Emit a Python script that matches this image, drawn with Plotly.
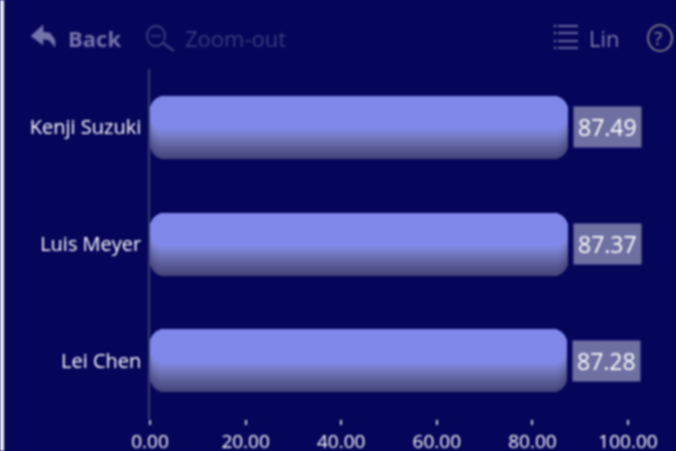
import plotly.graph_objects as go

names = ["Kenji Suzuki", "Luis Meyer", "Lei Chen"]
values = [87.49, 87.37, 87.28]
bases = [0, 0, 0]
tick_vals = [0, 20, 40, 60, 80, 100]
tick_text = ["0.00", "20.00", "40.00", "60.00", "80.00", "100.00"]

W, H = 676, 451
BG = "#05055a"
FONT = "Open Sans"
BAR_W = 0.54
L, R, T, B = 150, 48, 69, 32
# gradient stops: fraction of the bar thickness covered from its top, colour
stops = [(1.00, "#43457a"), (0.97, "#474980"), (0.94, "#4c4e86"), (0.91, "#51538c"),
         (0.87, "#565993"), (0.83, "#5c5f9b"), (0.79, "#6266a4"), (0.75, "#686cad"),
         (0.71, "#6e73b7"), (0.67, "#7379c2"), (0.63, "#787ecd"), (0.59, "#7c84da"),
         (0.55, "#7f88e8")]

def px(x): return (x - L) / (W - L - R)
def py(y): return (H - B - y) / (H - T - B)

fig = go.Figure()
for frac, col in stops:
    # an explicit base makes plotly round both ends of the bar
    fig.add_trace(go.Bar(
        y=names, x=values, base=bases, orientation="h", width=BAR_W * frac, offset=-BAR_W / 2,
        marker=dict(color=col, cornerradius=14, line_width=0),
        hoverinfo="skip", showlegend=False))

annotations = []
for n, v in zip(names, values):
    annotations.append(dict(x=v, y=n, xref="x", yref="y", text=f"{v:.2f}", showarrow=False,
                            xanchor="left", xshift=5, bgcolor="#6f70a2", borderpad=4,
                            font=dict(family=FONT, size=23, color="#ffffff")))

def label(x, y, text, color, size=22):
    annotations.append(dict(x=px(x), y=py(y), xref="paper", yref="paper", text=text,
                            showarrow=False, xanchor="left", yanchor="middle",
                            font=dict(family=FONT, size=size, color=color)))

label(66, 38, "<b>Back</b>", "#7374aa", 22)
label(183, 38, "Zoom-out", "#3a3b80", 22)
label(587, 38, "Lin", "#7e7fb0", 22)
label(652, 38, "?", "#8f8f8f", 19)

shapes = [dict(type="rect", xref="paper", yref="paper", x0=px(0), x1=px(4), y0=py(H), y1=py(0),
               fillcolor="#f2f2f6", line_width=0, layer="above")]

def path(d, color, fill=None, width=1.6):
    shapes.append(dict(type="path", xref="paper", yref="paper", path=d,
                       line=dict(color=color, width=width),
                       fillcolor=fill if fill else "rgba(0,0,0,0)"))

def P(*pts):
    return " ".join(f"{c}{px(x):.5f},{py(y):.5f}" for c, x, y in pts)

# back arrow
path(P(("M", 31, 36), ("L", 43, 25), ("L", 43, 32), ("L", 50, 33), ("L", 55, 40), ("L", 55, 47),
       ("L", 49, 40), ("L", 43, 39), ("L", 43, 45), ("L", 31, 36)) + " Z", "#7374aa", "#7374aa", 0.5)
# zoom-out lens
shapes.append(dict(type="circle", xref="paper", yref="paper", x0=px(147), x1=px(165), y0=py(46), y1=py(26),
                   line=dict(color="#3a3b80", width=1.8)))
path(P(("M", 151, 36), ("L", 161, 36)), "#3a3b80")
path(P(("M", 163, 43), ("L", 174, 51)), "#3a3b80", None, 2.4)
# list icon
for yy in (26, 33, 41, 48):
    path(P(("M", 558, yy), ("L", 578, yy)), "#7e7fb0", None, 1.6)
    path(P(("M", 554, yy), ("L", 556, yy)), "#7e7fb0", None, 2.0)
# help ring
shapes.append(dict(type="circle", xref="paper", yref="paper", x0=px(648), x1=px(672), y0=py(51), y1=py(25),
                   line=dict(color="#8f8f8f", width=1.6)))

fig.update_layout(
    width=W, height=H, margin=dict(l=L, r=R, t=T, b=B, autoexpand=False),
    paper_bgcolor=BG, plot_bgcolor=BG, barmode="overlay", bargap=0,
    font=dict(family=FONT, color="#ffffff"),
    annotations=annotations, shapes=shapes,
    xaxis=dict(range=[0, 100], tickvals=tick_vals, ticktext=tick_text, showgrid=False, automargin=False,
               zeroline=False, showline=False, ticks="outside", ticklen=5, tickwidth=2,
               tickcolor="#c8c8dc", tickfont=dict(family=FONT, size=19, color="#ffffff")),
    yaxis=dict(type="category", categoryorder="array", categoryarray=names, range=[2.5, -0.5],
               showgrid=False, zeroline=False, showline=True, linecolor="#3b3d78", linewidth=1.5,
               automargin=False, ticks="", ticklen=0, ticklabelstandoff=3,
               tickfont=dict(family=FONT, size=20, color="#ffffff")),
)
fig.write_html("out.html", config=dict(displayModeBar=False),
               post_script="document.body.style.margin='0';document.body.style.background='#05055a';"
                           "document.querySelector('.plotly-graph-div').style.filter='blur(0.9px)';")
